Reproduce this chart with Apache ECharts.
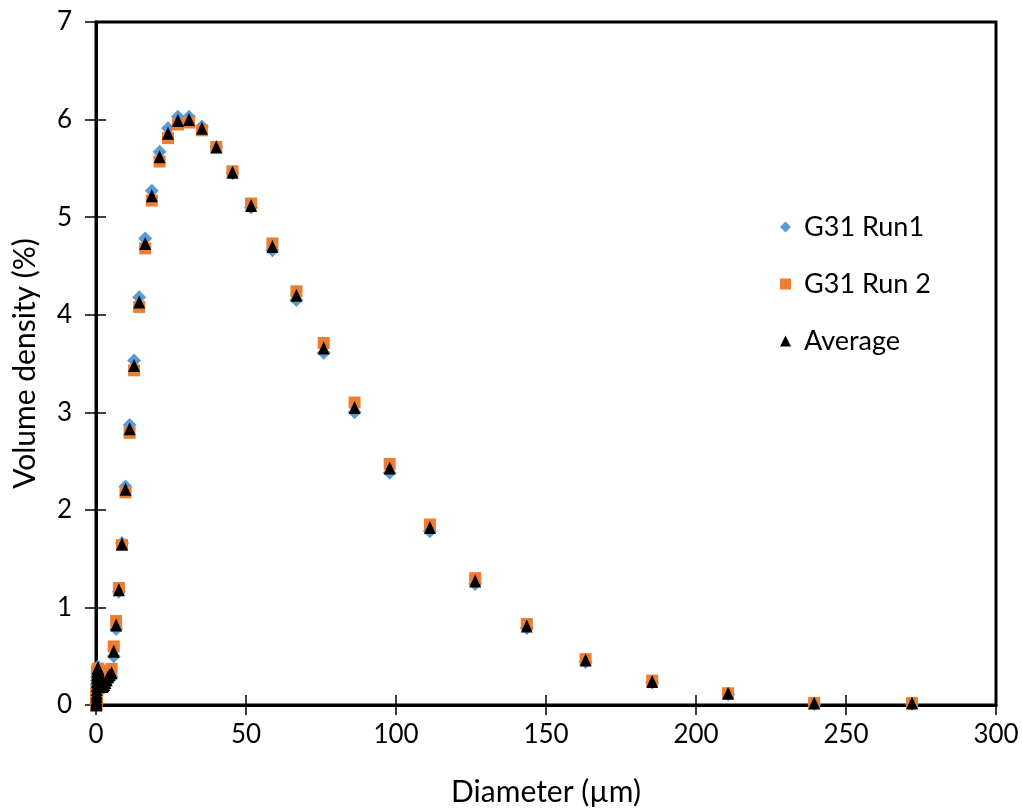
<!DOCTYPE html>
<html>
<head>
<meta charset="utf-8">
<script src="https://cdn.jsdelivr.net/npm/echarts@6/dist/echarts.min.js"></script>
<style>
html,body{margin:0;padding:0;background:#fff;}
#chart{width:1022px;height:810px;}
</style>
</head>
<body>
<div id="chart"></div>
<script>
// Particle diameters (µm)
const diameters = [0.10,0.11,0.13,0.15,0.17,0.19,0.21,0.24,0.28,0.31,0.36,0.40,0.46,0.52,0.59,0.67,0.77,0.87,0.99,1.12,1.28,1.45,1.65,1.87,2.13,2.42,2.75,3.12,3.54,4.03,4.57,5.20,5.91,6.71,7.62,8.66,9.84,11.2,12.7,14.4,16.4,18.6,21.2,24.0,27.3,31.0,35.3,40.1,45.5,51.7,58.8,66.8,75.9,86.2,97.9,111.3,126.4,143.6,163.2,185.4,210.7,239.4,272.0];
// Volume density (%)
const run1 = [0.00,0.01,0.02,0.04,0.07,0.10,0.13,0.17,0.21,0.25,0.29,0.32,0.35,0.37,0.39,0.39,0.37,0.35,0.32,0.28,0.25,0.22,0.19,0.18,0.17,0.18,0.19,0.20,0.23,0.26,0.27,0.29,0.50,0.78,1.16,1.66,2.24,2.87,3.53,4.18,4.78,5.27,5.67,5.91,6.03,6.03,5.93,5.72,5.45,5.10,4.66,4.15,3.61,3.00,2.38,1.78,1.24,0.79,0.44,0.23,0.11,0.01,0.01];
const run2 = [0.00,0.01,0.02,0.04,0.05,0.08,0.11,0.15,0.19,0.23,0.27,0.30,0.33,0.35,0.37,0.37,0.37,0.35,0.33,0.30,0.27,0.24,0.22,0.22,0.21,0.22,0.23,0.26,0.29,0.33,0.35,0.37,0.60,0.86,1.20,1.64,2.18,2.79,3.43,4.08,4.68,5.17,5.57,5.81,5.95,5.97,5.89,5.72,5.47,5.14,4.73,4.24,3.71,3.10,2.47,1.85,1.30,0.83,0.47,0.25,0.12,0.02,0.02];
const average = [0.00,0.01,0.02,0.04,0.06,0.09,0.12,0.16,0.20,0.24,0.28,0.31,0.34,0.36,0.38,0.38,0.37,0.35,0.32,0.29,0.26,0.23,0.21,0.20,0.19,0.20,0.21,0.23,0.26,0.29,0.31,0.33,0.55,0.82,1.18,1.65,2.21,2.83,3.48,4.13,4.73,5.22,5.62,5.86,5.99,6.00,5.91,5.72,5.46,5.12,4.70,4.20,3.66,3.05,2.43,1.82,1.27,0.81,0.46,0.24,0.12,0.02,0.02];
const seriesNames = ['G31 Run1','G31 Run 2','Average'];
const xTitle = 'Diameter (µm)';
const yTitle = 'Volume density (%)';

const pair = (ys) => diameters.map((d, i) => [d, ys[i]]);
const FONT = 'Lato, "Open Sans", sans-serif';

const chart = echarts.init(document.getElementById('chart'), null, {renderer: 'canvas'});
const axisCommon = {
  axisLine: {show: true, lineStyle: {color: '#000', width: 3}},
  splitLine: {show: false}
};
chart.setOption({
  animation: false,
  backgroundColor: '#fff',
  grid: {left: 96, right: 26, top: 22, bottom: 105, outerBoundsMode: 'none', containLabel: false, show: true, borderColor: '#000', borderWidth: 3, backgroundColor: 'transparent'},
  legend: {
    orient: 'vertical', left: 775, top: 207, itemGap: 27,
    itemWidth: 11, itemHeight: 11,
    textStyle: {fontFamily: FONT, fontSize: 27, color: '#000', lineHeight: 30, padding: [0,0,0,8]},
    data: [
      {name: seriesNames[0], icon: 'diamond'},
      {name: seriesNames[1], icon: 'rect'},
      {name: seriesNames[2], icon: 'triangle'}
    ]
  },
  xAxis: [
    Object.assign({}, axisCommon, {
      type: 'value', min: 0, max: 300, interval: 50, position: 'bottom',
      axisTick: {show: true, inside: false, length: 10, lineStyle: {color: '#000', width: 1.5}},
      axisLabel: {fontFamily: FONT, fontSize: 26, color: '#000', margin: 17},
      name: xTitle, nameLocation: 'middle', nameGap: 72,
      nameTextStyle: {fontFamily: FONT, fontSize: 30, color: '#000'}
    }),
    {
      type: 'value', min: 0, max: 300, interval: 50, position: 'bottom', offset: 0,
      axisLine: {show: false}, splitLine: {show: false},
      axisTick: {show: true, inside: true, length: 10, lineStyle: {color: '#000', width: 1.5}},
      axisLabel: {show: false}
    }
  ],
  yAxis: [
    Object.assign({}, axisCommon, {
      type: 'value', min: 0, max: 7, interval: 1, position: 'left',
      axisTick: {show: true, inside: false, length: 11, lineStyle: {color: '#000', width: 1.5}},
      axisLabel: {fontFamily: FONT, fontSize: 26, color: '#000', margin: 24},
      name: yTitle, nameLocation: 'middle', nameGap: 56, nameRotate: 90,
      nameTextStyle: {fontFamily: FONT, fontSize: 30, color: '#000'}
    }),
    {
      type: 'value', min: 0, max: 7, interval: 1, position: 'left', offset: 0,
      axisLine: {show: false}, splitLine: {show: false},
      axisTick: {show: true, inside: true, length: 10, lineStyle: {color: '#000', width: 1.5}},
      axisLabel: {show: false}
    }
  ],
  series: [
    {name: seriesNames[0], type: 'scatter', symbol: 'diamond', symbolSize: 14, itemStyle: {color: '#5B9BD5', opacity: 1}, data: pair(run1), z: 2},
    {name: seriesNames[1], type: 'scatter', symbol: 'rect', symbolSize: 12, itemStyle: {color: '#ED7D31', opacity: 1}, data: pair(run2), z: 3},
    {name: seriesNames[2], type: 'scatter', symbol: 'triangle', symbolSize: [12, 13], itemStyle: {color: '#000', opacity: 1}, data: pair(average), z: 4}
  ]
});
</script>
</body>
</html>
